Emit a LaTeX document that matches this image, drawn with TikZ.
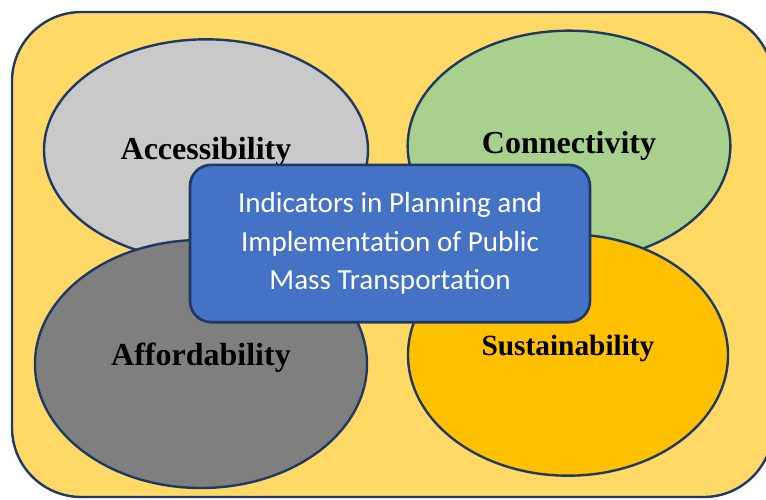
\documentclass[tikz,border=0pt]{standalone}
\usepackage{fontspec}
\setmainfont{Liberation Serif}
\newfontfamily\calibrifont{Carlito}
\usetikzlibrary{shapes.geometric,positioning}
\definecolor{PanelGold}{HTML}{FFD966}
\definecolor{PanelNavy}{HTML}{1F3864}
\definecolor{AccGrey}{HTML}{C9C9C9}
\definecolor{ConGreen}{HTML}{A9D18E}
\definecolor{AffGrey}{HTML}{7F7F7F}
\definecolor{SusGold}{HTML}{FFC000}
\definecolor{HubBlue}{HTML}{4472C4}

\begin{document}
\begin{tikzpicture}[
  x=0.75pt,
  y=-0.75pt,
  oval/.style={
    ellipse,
    draw=PanelNavy,
    line width=1.8pt,
    inner sep=0pt
  },
  lbl/.style={font=\fontsize{24}{28}\selectfont\bfseries, text=black},
  hubbox/.style={
    draw=PanelNavy,
    line width=2pt,
    rounded corners=16pt,
    fill=HubBlue,
    text=white,
    align=center,
    minimum width=300pt,
    minimum height=118pt,
    font=\calibrifont\fontsize{21.8}{29}\selectfont
  }
]
\useasboundingbox (0,0) rectangle (766,499);
% yellow panel, running off the right and bottom edges
\draw[fill=PanelGold, draw=PanelNavy, line width=1.8pt, rounded corners=52pt] (12,12) rectangle (773,497);

\node[oval, fill=AccGrey, minimum width=243pt, minimum height=166pt] (acc) at (206,150) {};
\node[oval, fill=ConGreen, minimum width=242pt, minimum height=173pt] (con) at (569,146) {};
\node[oval, fill=AffGrey, minimum width=249pt, minimum height=186pt] (aff) at (201,364) {};
\node[oval, fill=SusGold, minimum width=240pt, minimum height=181pt] (sus) at (568,355) {};

\node[lbl] at ([yshift=-1.5pt]acc.center) {Accessibility};
\node[lbl] at ([yshift=0pt]con.center) {Connectivity};
\node[lbl] at ([yshift=5pt]aff.center) {Affordability};
\node[lbl, font=\fontsize{22}{26}\selectfont\bfseries] at ([yshift=5pt]sus.center) {Sustainability};

\node[hubbox] (hub) at (390,243.5) {Indicators in Planning and\\Implementation of Public\\Mass Transportation};
\end{tikzpicture}
\end{document}
